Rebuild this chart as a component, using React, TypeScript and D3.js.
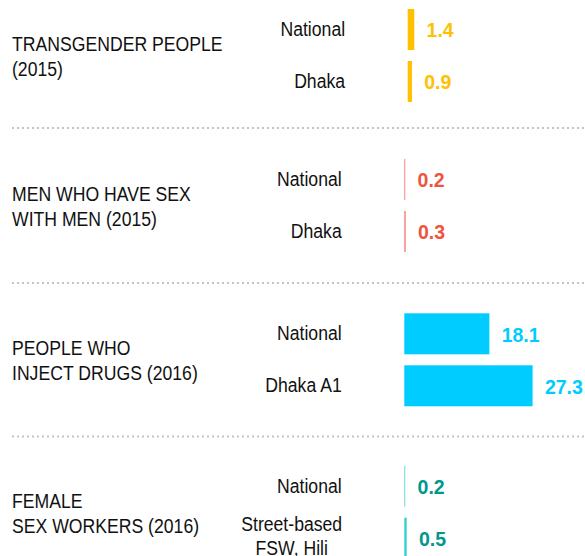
import React from "react";
import * as d3 from "d3";

const groupTitles: string[][] = [
  ["TRANSGENDER PEOPLE", "(2015)"],
  ["MEN WHO HAVE SEX", "WITH MEN (2015)"],
  ["PEOPLE WHO", "INJECT DRUGS (2016)"],
  ["FEMALE", "SEX WORKERS (2016)"],
];
const categories: string[][][] = [
  [["National"], ["Dhaka"]],
  [["National"], ["Dhaka"]],
  [["National"], ["Dhaka A1"]],
  [["National"], ["Street-based", "FSW, Hili"]],
];
const values: number[][] = [
  [1.4, 0.9],
  [0.2, 0.3],
  [18.1, 27.3],
  [0.2, 0.5],
];
const valueLabels: string[][] = [
  ["1.4", "0.9"],
  ["0.2", "0.3"],
  ["18.1", "27.3"],
  ["0.2", "0.5"],
];

const barColors = [
  ["#FFC000", "#FFC000"],
  ["#F47C7C", "#F47C7C"],
  ["#00CCFF", "#00CCFF"],
  ["#5ED8D8", "#2ECFCF"],
];
const labelColors = ["#FFC000", "#EE5540", "#00CCFF", "#00988A"];

const W = 585;
const H = 556;
const groupTops = [9, 159, 313.3, 465.7];
const groupDx = [3.4, 0, 0, 0];
const separators = [128, 283, 436.5];
const SANS = "'Liberation Sans', Arial, sans-serif";
const NARROW_SCALE = 0.84;

function NarrowText(props: {
  x: number;
  y: number;
  anchor?: "start" | "middle" | "end";
  children: string;
}) {
  return (
    <g transform={`translate(${props.x},${props.y}) scale(${NARROW_SCALE},1)`}>
      <text
        x={0}
        y={0}
        textAnchor={props.anchor || "start"}
        fontFamily={SANS}
        fontSize={21}
        fill="#111"
      >
        {props.children}
      </text>
    </g>
  );
}

export default function App() {
  const x = d3.scaleLinear().domain([0, 30]).range([404.3, 404.3 + 141]);
  const band = d3
    .scaleBand<number>()
    .domain([0, 1])
    .range([0, 93])
    .paddingInner(11 / 52)
    .paddingOuter(0);
  const bw = band.bandwidth();

  return (
    <svg
      width={W}
      height={H}
      style={{ position: "absolute", left: 0, top: 0, background: "#fff" }}
    >
      {separators.map((y, i) => (
        <line
          key={"sep" + i}
          x1={12}
          x2={W}
          y1={y}
          y2={y}
          stroke="#c4c4c4"
          strokeWidth={2}
          strokeDasharray="2,3"
        />
      ))}
      {groupTitles.map((title, g) => {
        const top = groupTops[g];
        const center = top + 93 / 2;
        const dx = groupDx[g];
        return (
          <g key={"g" + g}>
            {title.map((line, li) => (
              <NarrowText key={li} x={12} y={center - 4.5 + li * 25}>
                {line}
              </NarrowText>
            ))}
            {values[g].map((v, b) => {
              const y0 = top + (band(b) as number);
              const cy = y0 + bw / 2;
              const cat = categories[g][b];
              return (
                <g key={b}>
                  <rect
                    x={x(0) + dx}
                    y={y0}
                    width={x(v) - x(0)}
                    height={bw}
                    fill={barColors[g][b]}
                  />
                  {cat.length === 1 ? (
                    <NarrowText x={341.7 + dx} y={cy + 6.5} anchor="end">
                      {cat[0]}
                    </NarrowText>
                  ) : (
                    cat.map((c, ci) => (
                      <NarrowText
                        key={ci}
                        x={291.7 + dx}
                        y={cy - 7.2 + ci * 24}
                        anchor="middle"
                      >
                        {c}
                      </NarrowText>
                    ))
                  )}
                  <text
                    x={x(v) + dx + 12.3}
                    y={cy + 7.8}
                    fontFamily={SANS}
                    fontWeight="bold"
                    fontSize={19.5}
                    fill={labelColors[g]}
                  >
                    {valueLabels[g][b]}
                  </text>
                </g>
              );
            })}
          </g>
        );
      })}
    </svg>
  );
}
